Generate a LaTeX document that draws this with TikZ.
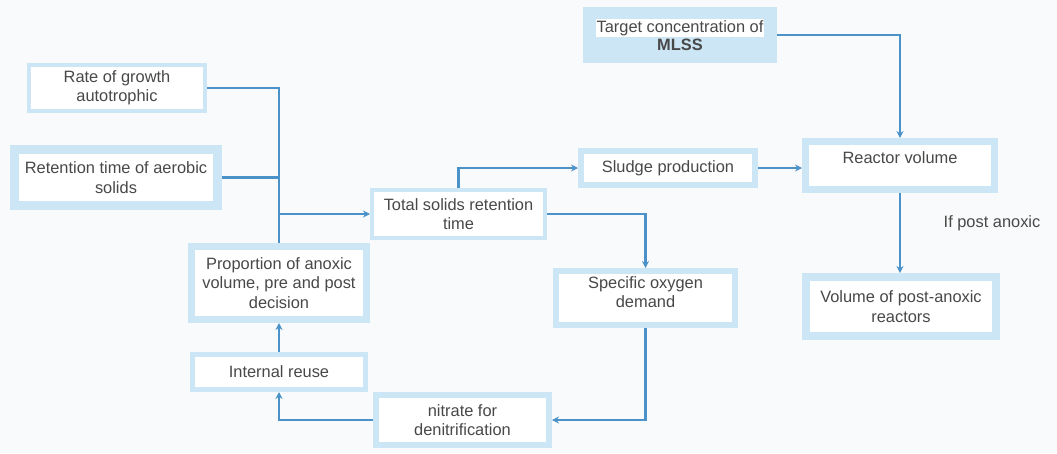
\documentclass[tikz,border=0pt]{standalone}
\usepackage{fontspec}
\setmainfont{Liberation Sans}
\usetikzlibrary{arrows.meta}
\definecolor{bgc}{RGB}{249,250,251}
\definecolor{boxblue}{RGB}{205,230,245}
\definecolor{linec}{RGB}{74,146,200}
\definecolor{txt}{RGB}{72,72,72}
\tikzset{
  box/.style={draw=boxblue, fill=white, align=center, text=txt, inner sep=0pt,
    font=\fontsize{16.4}{19.5}\selectfont},
  conn/.style={draw=linec, line width=2.2pt},
  arr/.style={conn, -{Stealth[length=7pt,width=7pt]}},
}
\begin{document}
\begin{tikzpicture}[x=1pt,y=-1pt]
\fill[bgc] (0,0) rectangle (1057,453);
\useasboundingbox (0,0) rectangle (1057,453);

\node[box, line width=4pt, minimum width=176pt, minimum height=46pt] (rate) at (117,88) {Rate of growth\\autotrophic};
\node[box, line width=9pt, minimum width=203pt, minimum height=56pt] (ret) at (116,177.5) {Retention time of aerobic\\solids};
\node[box, line width=4pt, minimum width=173pt, minimum height=48pt] (total) at (458.5,214) {Total solids retention\\time};
\node[box, line width=6pt, minimum width=174pt, minimum height=34pt] (sludge) at (668,168) {Sludge production};
\node[box, line width=4pt, fill=boxblue, minimum width=190pt, minimum height=52pt] (target) at (680,35)
  {{\setlength{\fboxsep}{1pt}\colorbox{white}{Target concentration of}}\\[-1pt]\textbf{MLSS}};
\node[box, line width=7pt, minimum width=189pt, minimum height=48pt, text depth=16pt] (reactor) at (900,165.5) {Reactor volume};
\node[box, line width=8pt, minimum width=190pt, minimum height=59pt] (post) at (901,306.5) {Volume of post-anoxic\\reactors};
\node[box, line width=6pt, minimum width=179pt, minimum height=54pt] (spec) at (645.5,298) {Specific oxygen\\demand\\[-8pt]};
\node[box, line width=7pt, minimum width=175pt, minimum height=73pt] (prop) at (279,283) {Proportion of anoxic\\volume, pre and post\\decision};
\node[box, line width=5pt, minimum width=173pt, minimum height=35pt] (internal) at (279,372) {Internal reuse};
\node[box, line width=6pt, minimum width=173pt, minimum height=50pt] (nitrate) at (462.5,420) {nitrate for\\denitrification};

\node[text=txt, font=\fontsize{16.4}{19.5}\selectfont, inner sep=0pt] (ifpost) at (992,223) {If post anoxic};

\coordinate (jret) at (ret.east -| prop.north);
\coordinate (jtot) at (total.west -| prop.north);

\draw[conn] (rate.east) -| (prop.north);
\draw[conn] (ret.east) -- (jret);
\draw[arr] (jtot) -- (total.west);
\draw[arr] (total.north) |- (sludge.west);
\draw[arr] (total.east) -| (spec.north);
\draw[arr] (sludge.east) -- (sludge.east -| reactor.west);
\draw[arr] (target.east) -| (reactor.north);
\draw[arr] (reactor.south) -- (reactor.south |- post.north);
\draw[arr] (spec.south) |- (nitrate.east);
\draw[arr] (nitrate.west) -| (internal.south);
\draw[arr] (internal.north) -- (prop.south);
\end{tikzpicture}
\end{document}
